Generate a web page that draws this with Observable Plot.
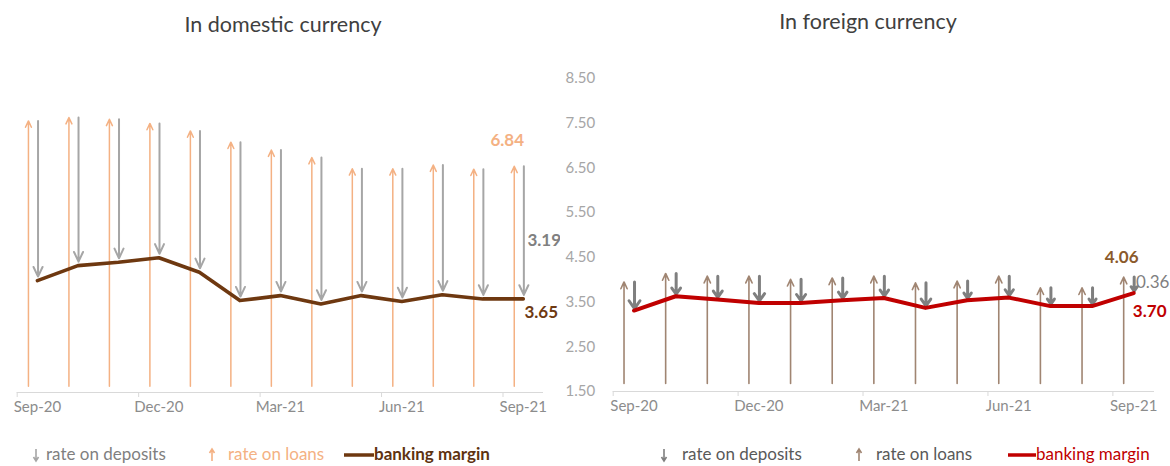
<!DOCTYPE html>
<html><head><meta charset="utf-8">
<script src="https://cdn.jsdelivr.net/npm/d3@7"></script>
<script src="https://cdn.jsdelivr.net/npm/@observablehq/plot@0.6"></script>
<style>
body{margin:0;background:#fff;font-family:Lato,"Open Sans",sans-serif;}
#wrap{position:relative;width:1170px;height:466px;overflow:hidden;background:#fff;}
.panel{position:absolute;top:0;}
.title{position:absolute;font-size:21.5px;color:#404040;transform:translateX(-50%);white-space:nowrap;}
.lg{position:absolute;font-size:17px;white-space:nowrap;line-height:18px;}
.lg svg{display:block;}
</style></head>
<body><div id="wrap"></div>
<script>
const months = ["Sep-20","Oct-20","Nov-20","Dec-20","Jan-21","Feb-21","Mar-21","Apr-21","May-21","Jun-21","Jul-21","Aug-21","Sep-21"];
const tickMonths = ["Sep-20","Dec-20","Mar-21","Jun-21","Sep-21"];

// domestic currency (%)
const domLoans    = [7.93, 8.01, 7.97, 7.87, 7.69, 7.42, 7.23, 7.05, 6.78, 6.78, 6.87, 6.77, 6.84];
const domDeposits = [3.84, 3.56, 3.44, 3.23, 3.40, 3.81, 3.50, 3.52, 3.05, 3.19, 3.12, 3.12, 3.19];
const domMargin   = [4.09, 4.45, 4.53, 4.64, 4.29, 3.61, 3.73, 3.53, 3.73, 3.59, 3.75, 3.65, 3.65];

// foreign currency (%)
const forLoans    = [3.95, 4.14, 4.08, 4.08, 4.01, 4.04, 4.08, 3.93, 3.97, 4.08, 3.82, 3.82, 4.06];
const forDeposits = [0.64, 0.51, 0.52, 0.60, 0.53, 0.50, 0.49, 0.56, 0.43, 0.48, 0.41, 0.41, 0.36];
const forMargin   = [3.31, 3.63, 3.56, 3.48, 3.48, 3.54, 3.59, 3.37, 3.54, 3.60, 3.41, 3.41, 3.70];

const yTicks = [1.5, 2.5, 3.5, 4.5, 5.5, 6.5, 7.5, 8.5];

const titles = ["In domestic currency", "In foreign currency"];
const legendLabels = ["rate on deposits", "rate on loans", "banking margin"];

function rowsOf(loans, deps, margin) {
  return months.map((m, i) => ({m, x: i + 0.5, loan: loans[i], dep: deps[i], margin: margin[i], depEnd: loans[i] - deps[i]}));
}
const tickIdx = tickMonths.map(t => months.indexOf(t));

function xAxes() {
  return [
    Plot.axisX({ticks: tickIdx, tickSize: 5, tickFormat: () => "", stroke: "#d9d9d9", label: null}),
    Plot.axisX({ticks: tickIdx.map(d => d + 0.5), tickSize: 0, tickPadding: 9, fontSize: 15,
      fill: "#8c8c8c", tickFormat: d => months[Math.round(d - 0.5)], label: null})
  ];
}

const wrap = document.getElementById("wrap");

// ---------- domestic ----------
const domRows = rowsOf(domLoans, domDeposits, domMargin);
const domBase = 1.55, domYmin = 1.4;
const domLast = domRows[domRows.length - 1];
const left = Plot.plot({
  width: 560, height: 420,
  marginTop: 78, marginBottom: 28, marginLeft: 16.7, marginRight: 17,
  style: {fontFamily: "Lato, 'Open Sans', sans-serif", background: "transparent"},
  x: {type: "linear", domain: [0, months.length], axis: null},
  y: {domain: [domYmin, 8.95], axis: null},
  marks: [
    Plot.ruleY([domYmin], {stroke: "#d9d9d9", strokeWidth: 1.2}),
    ...xAxes(),
    Plot.arrow(domRows, {x1: "x", x2: "x", y1: () => domBase, y2: "loan", dx: -9,
      stroke: "#f4b183", strokeWidth: 1.5, headLength: 7, headAngle: 50}),
    Plot.arrow(domRows, {x1: "x", x2: "x", y1: "loan", y2: "depEnd", dx: 0.6, insetEnd: 4,
      stroke: "#a6a6a6", strokeWidth: 2, headLength: 8, headAngle: 50}),
    Plot.line(domRows, {x: "x", y: "margin", stroke: "#6e3810", strokeWidth: 3.6}),
    Plot.text([domLast], {x: "x", y: "loan", text: d => d.loan.toFixed(2), dx: -16, dy: -26,
      fill: "#f4b183", fontWeight: "bold", fontSize: 17}),
    Plot.text([domLast], {x: "x", y: d => (d.loan + d.depEnd) / 2, text: d => d.dep.toFixed(2), dx: 21, dy: 8,
      fill: "#808080", fontWeight: "bold", fontSize: 17}),
    Plot.text([domLast], {x: "x", y: "margin", text: d => d.margin.toFixed(2), dx: 18, dy: 14,
      fill: "#6e3a12", fontWeight: "bold", fontSize: 17})
  ]
});
left.classList.add("panel");
left.style.left = "0px";
wrap.appendChild(left);

// ---------- foreign ----------
const forRows = rowsOf(forLoans, forDeposits, forMargin);
const forBase = 1.68;
const forLast = forRows[forRows.length - 1];
const right = Plot.plot({
  width: 610, height: 420,
  marginTop: 78, marginBottom: 29, marginLeft: 52.7, marginRight: 16,
  style: {fontFamily: "Lato, 'Open Sans', sans-serif", background: "transparent"},
  x: {type: "linear", domain: [0, months.length], axis: null},
  y: {domain: [1.5, 8.5], axis: null},
  marks: [
    Plot.axisY({ticks: yTicks, tickSize: 0, tickPadding: 18, fontSize: 15, fill: "#a6a6a6",
      tickFormat: d => d.toFixed(2), label: null}),
    Plot.ruleY([1.5], {stroke: "#d9d9d9", strokeWidth: 1.2}),
    ...xAxes(),
    Plot.arrow(forRows, {x1: "x", x2: "x", y1: () => forBase, y2: "loan", dx: -10,
      stroke: "#a08572", strokeWidth: 1.6, headLength: 7, headAngle: 50}),
    Plot.arrow(forRows, {x1: "x", x2: "x", y1: "loan", y2: "depEnd", dx: 0.5, insetEnd: 2,
      stroke: "#7f7f7f", strokeWidth: 3, headLength: 5, headAngle: 70}),
    Plot.line(forRows, {x: "x", y: "margin", stroke: "#c00000", strokeWidth: 4}),
    Plot.text([forLast], {x: "x", y: "loan", text: d => d.loan.toFixed(2), dx: -12, dy: -19,
      fill: "#8b5a2b", fontWeight: "bold", fontSize: 17}),
    Plot.text([forLast], {x: "x", y: "loan", text: d => d.dep.toFixed(2), dx: 19, dy: 6,
      fill: "#7f7f7f", fontSize: 17}),
    Plot.text([forLast], {x: "x", y: "margin", text: d => d.margin.toFixed(2), dx: 16, dy: 18,
      fill: "#c00000", fontWeight: "bold", fontSize: 17})
  ]
});
right.classList.add("panel");
right.style.left = "560px";
wrap.appendChild(right);

// ---------- titles ----------
function addTitle(text, cx, top) {
  const d = document.createElement("div");
  d.className = "title"; d.textContent = text;
  d.style.left = cx + "px"; d.style.top = top + "px";
  wrap.appendChild(d);
}
addTitle(titles[0], 283, 11);
addTitle(titles[1], 868, 8);

// ---------- legends ----------
function arrowIcon(color, up) {
  const p = up ? "M4,3 L4,14 M1.5,6 L4,2 L6.5,6" : "M4,2 L4,13 M1.5,10 L4,14 L6.5,10";
  return `<svg width="8" height="16"><path d="${p}" stroke="${color}" stroke-width="1.6" fill="none"/></svg>`;
}
function lineIcon(color, w) {
  return `<svg width="${w}" height="16"><line x1="0" x2="${w}" y1="8" y2="8" stroke="${color}" stroke-width="3.5"/></svg>`;
}
function place(html, x, y, style) {
  const d = document.createElement("div");
  d.className = "lg"; d.innerHTML = html;
  d.style.left = x + "px"; d.style.top = y + "px";
  if (style) d.setAttribute("style", d.getAttribute("style") + ";" + style);
  wrap.appendChild(d);
}
const LY = 445;
// left legend
place(arrowIcon("#a6a6a6", false), 32, LY + 2);
place(legendLabels[0], 46, LY, "color:#7f7f7f");
place(arrowIcon("#f4b183", true), 208, LY + 2);
place(legendLabels[1], 228, LY, "color:#f4b183");
place(lineIcon("#6e3810", 30), 344, LY + 2);
place(legendLabels[2], 374, LY, "color:#5e3210;font-weight:bold");
// right legend
place(arrowIcon("#7f7f7f", false), 660, LY + 2);
place(legendLabels[0], 682, LY, "color:#595959");
place(arrowIcon("#a08572", true), 855, LY + 2);
place(legendLabels[1], 876, LY, "color:#595959");
place(lineIcon("#c00000", 28), 1008, LY + 2);
place(legendLabels[2], 1036, LY, "color:#c00000");
</script>
</body></html>
